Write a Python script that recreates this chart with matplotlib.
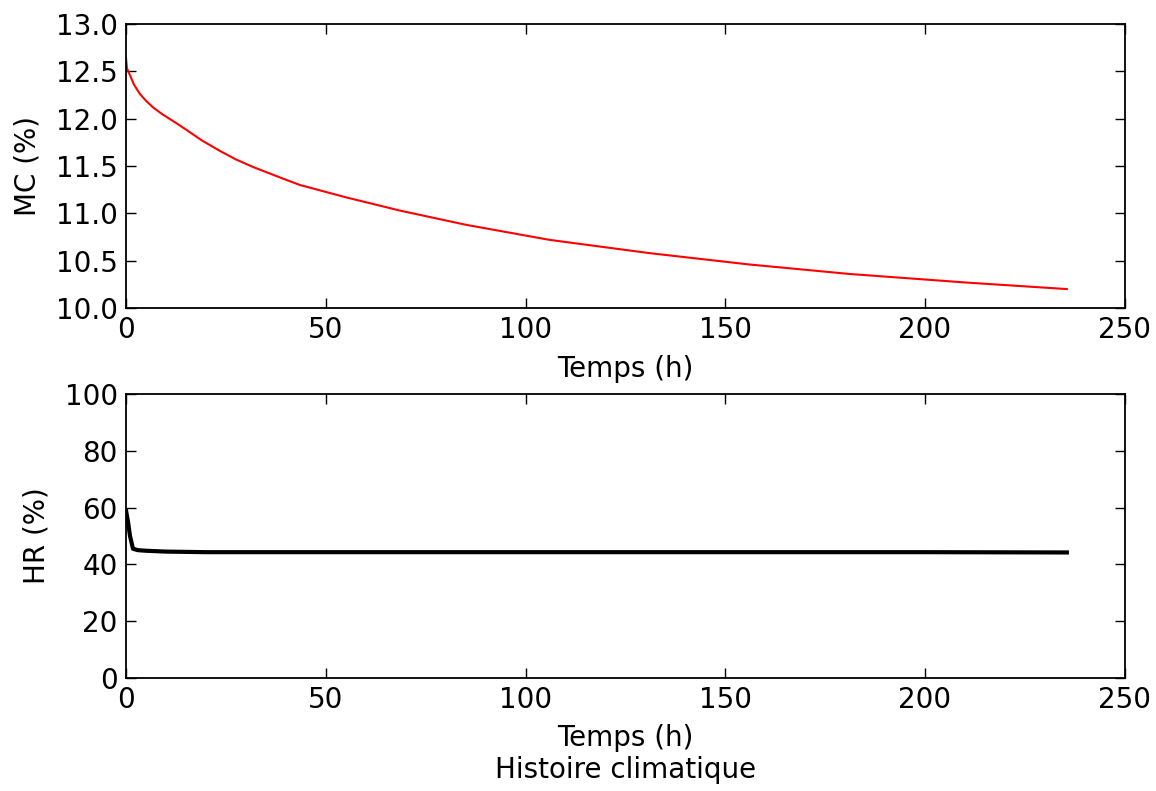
import matplotlib
matplotlib.use("Agg")
import matplotlib.pyplot as plt

mc_time = [0, 0.25, 1, 2, 3.5, 5, 6.75, 9, 12.7, 15.2, 19, 23.5, 27.5, 31.8, 38.5, 43.5,
           55, 68.5, 85, 106, 131, 156, 181, 210, 235.5]
mc_values = [12.64, 12.53, 12.46, 12.36, 12.26, 12.19, 12.12, 12.05, 11.95, 11.88, 11.77,
             11.66, 11.57, 11.49, 11.38, 11.30, 11.17, 11.03, 10.88, 10.72, 10.58, 10.46,
             10.36, 10.27, 10.20]

hr_time = [0, 0.5, 1, 1.75, 3, 5, 10, 20, 50, 100, 150, 200, 235.5]
hr_values = [59, 55, 50, 45.5, 45.0, 44.8, 44.5, 44.3, 44.3, 44.3, 44.3, 44.3, 44.2]

mc_yticks = [10.0, 10.5, 11.0, 11.5, 12.0, 12.5, 13.0]
hr_yticks = [0, 20, 40, 60, 80, 100]
x_ticks = [0, 50, 100, 150, 200, 250]

FONT_SIZE = 20


def style_axes(ax):
    ax.tick_params(direction="in", length=7, width=1, labelsize=FONT_SIZE,
                   top=True, right=True, pad=6)
    for spine in ax.spines.values():
        spine.set_linewidth(1.3)


fig = plt.figure(figsize=(11.56, 7.91), dpi=100, facecolor="white")
ax_mc = fig.add_axes([0.109, 0.6106, 0.864, 0.359])
ax_hr = fig.add_axes([0.109, 0.1429, 0.864, 0.359])

ax_mc.plot(mc_time, mc_values, color="red", lw=1.5)
ax_mc.set_xlim(0, 250)
ax_mc.set_ylim(10.0, 13.0)
ax_mc.set_xticks(x_ticks)
ax_mc.set_yticks(mc_yticks)
ax_mc.set_yticklabels([f"{v:.1f}" for v in mc_yticks])
ax_mc.set_xlabel("Temps (h)", fontsize=FONT_SIZE, labelpad=8)
ax_mc.set_ylabel("MC (%)", fontsize=FONT_SIZE, labelpad=10)
style_axes(ax_mc)

ax_hr.plot(hr_time, hr_values, color="black", lw=3)
ax_hr.set_xlim(0, 250)
ax_hr.set_ylim(0, 100)
ax_hr.set_xticks(x_ticks)
ax_hr.set_yticks(hr_yticks)
ax_hr.set_xlabel("Temps (h)\nHistoire climatique", fontsize=FONT_SIZE, labelpad=7,
                 linespacing=1.2)
ax_hr.set_ylabel("HR (%)", fontsize=FONT_SIZE, labelpad=10)
style_axes(ax_hr)

fig.savefig("out.png", dpi=100, facecolor="white")
